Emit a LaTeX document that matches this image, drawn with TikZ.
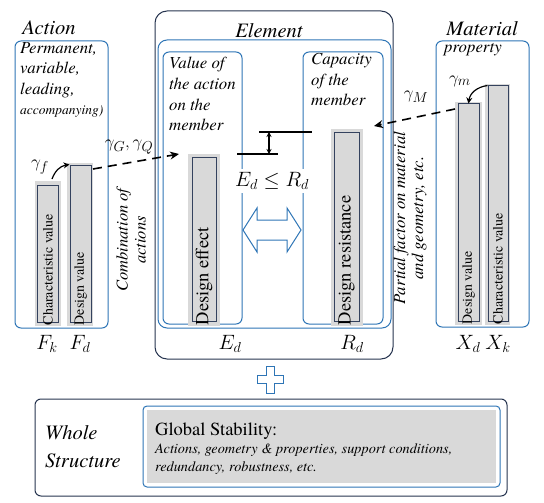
\documentclass[tikz,border=0pt]{standalone}
\usepackage{fontspec}
\setmainfont{texgyretermes}[Extension=.otf, UprightFont=*-regular, ItalicFont=*-italic, BoldFont=*-bold, BoldItalicFont=*-bolditalic]
\usetikzlibrary{arrows.meta}
\DeclareMathSizes{20}{20}{15}{12}
\DeclareMathSizes{18}{18}{14}{11}
\definecolor{bblue}{HTML}{2E75B6}
\definecolor{navy}{HTML}{26344F}
\definecolor{barbg}{HTML}{D9D9D9}
\definecolor{barline}{HTML}{34425E}
\tikzset{
  bluebox/.style={draw=bblue, line width=1pt, rounded corners=6pt},
  navybox/.style={draw=navy, line width=1pt, rounded corners=12pt},
  barin/.style={draw=barline, line width=1pt, fill=barbg, inner sep=0pt},
  bartext/.style={rotate=90, anchor=west, inner sep=0pt},
  dasharrow/.style={line width=1.6pt, dash pattern=on 9pt off 6pt, -{Stealth[length=9pt,width=8pt]}},
  curvearrow/.style={line width=1.2pt, -{Stealth[length=6pt,width=6pt]}},
  lbl/.style={font=\fontsize{20.5}{24}\selectfont\itshape, inner sep=0pt},
  sublbl/.style={font=\fontsize{16.8}{20.7}\selectfont\itshape, align=left, inner sep=0pt},
  mathlbl/.style={font=\fontsize{20}{24}\selectfont, inner sep=0pt},
  gammalbl/.style={font=\fontsize{18}{20}\selectfont, inner sep=0pt},
}
\begin{document}
\begin{tikzpicture}[x=1pt,y=-1pt]
\useasboundingbox (0,0) rectangle (544,503);
% ---------------- Action ----------------
\draw[bluebox] (15,41) rectangle (108,328);
\node[lbl] (actlbl) at (49,28) {Action};
\node[sublbl, anchor=north west] (acttxt) at (20,42) {Permanent,\\variable,\\leading,\\[-1pt]{\fontsize{13.5}{15}\selectfont accompanying)}};
\fill[barbg] (35,181) rectangle (61,326);
\node[barin, minimum width=21pt, minimum height=137pt] (fk) at (48,253.5) {};
\node[bartext, font=\fontsize{14}{16}\selectfont] (fkt) at ([yshift=-3pt]fk.south) {Characteristic value};
\fill[barbg] (67,163) rectangle (93,326);
\node[barin, minimum width=21pt, minimum height=157pt] (fd) at (80.5,243.5) {};
\node[bartext, font=\fontsize{14}{16}\selectfont] (fdt) at ([yshift=-3pt]fd.south) {Design value};
\node[mathlbl] (fklbl) at (47,344) {$F_k$};
\node[mathlbl] (fdlbl) at (80,344) {$F_d$};
\node[gammalbl] (gf) at (40,167) {$\gamma_f$};
\coordinate (gfs) at (52,179);
\draw[curvearrow] (gfs) .. controls (55,171) and (60,166) .. (fd.north west);
\node[rotate=90, font=\fontsize{16.5}{18}\selectfont\itshape, align=center, inner sep=0pt] (comb) at (131,240) {Combination of\\actions};
% ---------------- Element ----------------
\draw[navybox] (155,11) rectangle (393,359);
\node[lbl] (ellbl) at (269,31) {Element};
\draw[bluebox, rounded corners=9pt] (158,40) rectangle (391,328);
\draw[bluebox] (163,52) rectangle (242,324);
\draw[bluebox] (303,52) rectangle (383,324);
\node[sublbl, anchor=north west] (valtxt) at (169,57) {Value of\\the action\\on the\\member};
\node[sublbl, anchor=north west] (captxt) at (311,53) {Capacity\\of the\\member};
\fill[barbg] (188,154) rectangle (220,326);
\node[barin, minimum width=24pt, minimum height=164pt] (ed) at (204,239) {};
\node[bartext, font=\fontsize{18.5}{20}\selectfont] (edt) at ([yshift=-4pt]ed.south) {Design effect};
\fill[barbg] (331,129) rectangle (363,326);
\node[barin, minimum width=25pt, minimum height=189pt] (rd) at (346.5,226.5) {};
\node[bartext, font=\fontsize{18.5}{20}\selectfont] (rdt) at ([yshift=-4pt]rd.south) {Design resistance};
\coordinate (lowA) at (237,154); \coordinate (lowB) at (278,154);
\coordinate (upA) at (259,132); \coordinate (upB) at (312,132);
\draw[line width=1.3pt] (lowA) -- (lowB);
\draw[line width=1.3pt] (upA) -- (upB);
\coordinate (vtop) at (269,132); \coordinate (vbot) at (269,154);
\draw[line width=1.2pt, {Stealth[length=5pt,width=5pt]}-{Stealth[length=5pt,width=5pt]}] (vtop) -- (vbot);
\node[mathlbl, fill=white, inner sep=3pt] (ineq) at (272,181) {$E_d \leq R_d$};
% hollow double arrow
\draw[draw=bblue, line width=1pt, line join=miter] (243,230) -- (257,208) -- (257,220) -- (287,220) -- (287,208) -- (301,230) -- (287,252) -- (287,240) -- (257,240) -- (257,252) -- cycle;
\node[mathlbl] (edlbl) at (230,344) {$E_d$};
\node[mathlbl] (rdlbl) at (352,344) {$R_d$};
% ---------------- Material ----------------
\draw[bluebox] (436,41) rectangle (529,327);
\node[lbl] (matlbl) at (482,29) {Material};
\node[sublbl, anchor=north west] (proptxt) at (444,43) {property};
\fill[barbg] (455,102) rectangle (482,325);
\node[barin, minimum width=21pt, minimum height=217pt] (xd) at (468.5,212.5) {};
\node[bartext, font=\fontsize{14}{16}\selectfont] (xdt) at ([yshift=-3pt]xd.south) {Design value};
\fill[barbg] (485,84) rectangle (510,325);
\node[barin, minimum width=20pt, minimum height=235pt] (xk) at (498,203.5) {};
\node[bartext, font=\fontsize{14}{16}\selectfont] (xkt) at ([yshift=-3pt]xk.south) {Characteristic value};
\node[mathlbl] (xdlbl) at (468,344) {$X_d$};
\node[mathlbl] (xklbl) at (498,344) {$X_k$};
\node[gammalbl] (gm) at (460,81) {$\gamma_m$};
\draw[curvearrow] (xk.north west) .. controls (477,87) and (470,93) .. (xd.north);
\node[rotate=90, font=\fontsize{16.8}{18}\selectfont\itshape, align=center, inner sep=0pt] (pf) at (410,218) {Partial factor on material\\and geometry, etc.};
% ---------------- partial factor arrows ----------------
\coordinate (gqs) at (93,169);
\coordinate (gqe) at (179,154);
\draw[dasharrow] (gqs) -- (gqe);
\node[gammalbl] (gq) at (129,147) {$\gamma_G,\gamma_Q$};
\coordinate (gms) at (455,109);
\coordinate (gme) at (374,126);
\draw[dasharrow] (gms) -- (gme);
\node[gammalbl] (gM) at (416,97) {$\gamma_M$};
% ---------------- plus ----------------
\draw[draw=bblue, line width=1pt] (266,366) -- (274,366) -- (274,375.5) -- (283,375.5) -- (283,383.5) -- (274,383.5) -- (274,393) -- (266,393) -- (266,383.5) -- (257,383.5) -- (257,375.5) -- (266,375.5) -- cycle;
% ---------------- Whole structure ----------------
\draw[navybox, rounded corners=6pt] (35,399) rectangle (507,496);
\node[lbl, anchor=west] (whole) at (45,433) {Whole};
\node[lbl, anchor=west] (struct) at (45,461) {Structure};
\draw[bluebox, rounded corners=4pt] (143,406) rectangle (500,487);
\fill[barbg] (147,410) rectangle (496,483);
\node[anchor=west, font=\fontsize{18.5}{20}\selectfont, inner sep=0pt] (glob) at (155,431) {Global Stability:};
\node[anchor=north west, font=\fontsize{14.3}{18}\selectfont\itshape, align=left, inner sep=0pt] (globtxt) at (155,444) {Actions, geometry \& properties, support conditions,\\redundancy, robustness, etc.};
\end{tikzpicture}
\end{document}
